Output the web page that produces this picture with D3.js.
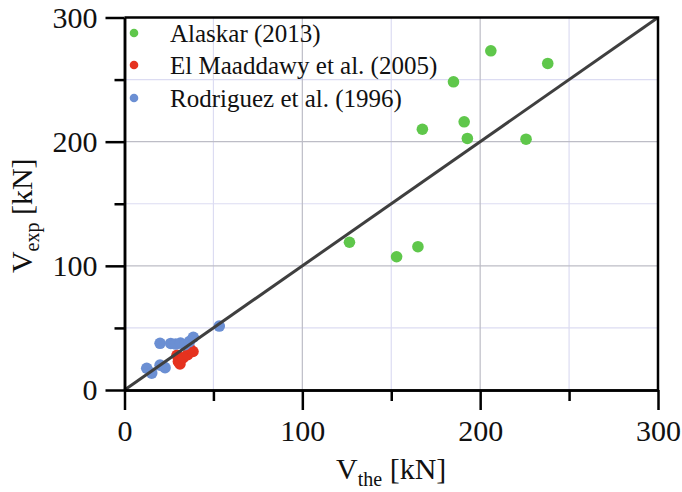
<!DOCTYPE html>
<html>
<head>
<meta charset="utf-8">
<script src="https://cdn.jsdelivr.net/npm/d3@7"></script>
<style>
  html, body { margin: 0; padding: 0; background: #fff; }
  svg text { font-family: "Liberation Serif", "Times New Roman", serif; fill: #111; }
</style>
</head>
<body>
<svg id="chart" width="682" height="492"></svg>
<script>
// Shear strength: experimental vs theoretical, per source
const seriesNames = ["Alaskar (2013)", "El Maaddawy et al. (2005)", "Rodriguez et al. (1996)"];
const seriesColors = ["#5fc74b", "#e5321f", "#6b8fd3"];

// [V_the, V_exp] in kN
const alaskar = [
  [126.5, 119], [153, 107.3], [165, 115.4], [167.5, 210], [185, 248.2],
  [191, 216], [192.8, 202.6], [206, 273.2], [225.8, 202], [238, 263]
];
const elMaaddawy = [
  [29.5, 28], [30.3, 23], [31.2, 21], [33, 26], [35.5, 28.5], [38.5, 31], [36.5, 34]
];
const rodriguez = [
  [12.5, 17.5], [15.3, 13.6], [20, 20], [22.8, 18], [20, 37.6], [26, 37.5],
  [28.8, 37], [31.5, 37.8], [34, 36.5], [36.5, 39], [38.7, 42.5], [53.3, 51.5]
];

const majorTicks = [0, 100, 200, 300];
const minorTicks = [50, 150, 250];
const domainMax = 300;

const svg = d3.select("#chart");
const plotLeft = 124.5, plotRight = 658, plotTop = 17.5, plotBottom = 390;

const x = d3.scaleLinear().domain([0, domainMax]).range([plotLeft, plotRight]);
const y = d3.scaleLinear().domain([0, domainMax]).range([plotBottom, plotTop]);

// grid
const grid = svg.append("g");
function gridLines(values, color) {
  values.forEach(v => {
    grid.append("line").attr("x1", x(v)).attr("x2", x(v)).attr("y1", plotTop).attr("y2", plotBottom)
      .attr("stroke", color).attr("stroke-width", 1.2);
    grid.append("line").attr("x1", plotLeft).attr("x2", plotRight).attr("y1", y(v)).attr("y2", y(v))
      .attr("stroke", color).attr("stroke-width", 1.2);
  });
}
gridLines(minorTicks, "#dcdcf2");
gridLines(majorTicks.slice(1, -1), "#bdbdc6");

// points
const groups = [alaskar, elMaaddawy, rodriguez];
groups.forEach((data, i) => {
  svg.append("g").selectAll("circle").data(data).join("circle")
    .attr("cx", d => x(d[0])).attr("cy", d => y(d[1])).attr("r", 5.8)
    .attr("fill", seriesColors[i]);
});

// 1:1 line
svg.append("line")
  .attr("x1", x(0)).attr("y1", y(0)).attr("x2", x(domainMax)).attr("y2", y(domainMax))
  .attr("stroke", "#3f3f3f").attr("stroke-width", 3);

// frame
svg.append("path")
  .attr("d", `M${plotLeft},${plotTop}H${plotRight}V${plotBottom}`)
  .attr("fill", "none").attr("stroke", "#000").attr("stroke-width", 2.5);

// axes
function styleAxis(g) {
  g.select(".domain").attr("stroke", "#000").attr("stroke-width", 2.5);
  g.selectAll(".tick line").attr("stroke", "#000").attr("stroke-width", 2.5);
  g.selectAll("text").attr("font-family", "Liberation Serif, Times New Roman, serif")
    .attr("font-size", 30).attr("fill", "#111");
}

svg.append("g").attr("transform", `translate(0,${plotBottom})`)
  .call(d3.axisBottom(x).tickValues(minorTicks).tickSize(11).tickSizeOuter(0).tickFormat(""))
  .call(styleAxis);
svg.append("g").attr("transform", `translate(0,${plotBottom})`)
  .call(d3.axisBottom(x).tickValues(majorTicks).tickSize(20).tickSizeOuter(0).tickPadding(10).tickFormat(d3.format("d")))
  .call(styleAxis);

svg.append("g").attr("transform", `translate(${plotLeft},0)`)
  .call(d3.axisLeft(y).tickValues(minorTicks).tickSize(10).tickSizeOuter(0).tickFormat(""))
  .call(styleAxis);
svg.append("g").attr("transform", `translate(${plotLeft},0)`)
  .call(d3.axisLeft(y).tickValues(majorTicks).tickSize(19).tickSizeOuter(0).tickPadding(8).tickFormat(d3.format("d")))
  .call(styleAxis);

// axis titles
const xt = svg.append("text").attr("x", x(150)).attr("y", 479)
  .attr("text-anchor", "middle").attr("font-size", 30);
xt.append("tspan").text("V");
xt.append("tspan").attr("font-size", 20).attr("dy", 7).text("the");
xt.append("tspan").attr("dy", -7).text(" [kN]");

const yt = svg.append("text").attr("transform", `translate(32,${y(150) + 12}) rotate(-90)`)
  .attr("text-anchor", "middle").attr("font-size", 30);
yt.append("tspan").text("V");
yt.append("tspan").attr("font-size", 20).attr("dy", 7).text("exp");
yt.append("tspan").attr("dy", -7).text(" [kN]");

// legend
const legend = svg.append("g");
const rowY = [33, 65, 98];
seriesNames.forEach((name, i) => {
  legend.append("circle").attr("cx", 134).attr("cy", rowY[i]).attr("r", 4.3).attr("fill", seriesColors[i]);
  legend.append("text").attr("x", 170).attr("y", rowY[i] + 8.5)
    .attr("font-size", 25).text(name);
});
</script>
</body>
</html>
